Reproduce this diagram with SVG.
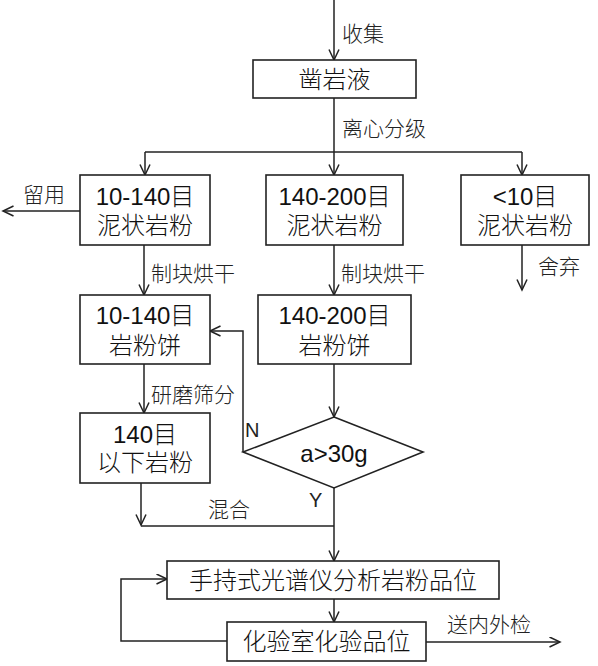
<svg xmlns="http://www.w3.org/2000/svg" width="598" height="666" viewBox="0 0 598 666">
<style>
.box{fill:#fff;stroke:#222;stroke-width:1.6}
.ln{fill:none;stroke:#222;stroke-width:1.5}
.t{font-family:"Liberation Sans","Noto Sans CJK SC",sans-serif;font-size:24px;font-weight:300;fill:#111;text-anchor:middle;dominant-baseline:central}
.l{font-family:"Noto Sans CJK SC","Liberation Sans",sans-serif;font-size:21px;font-weight:300;fill:#222;dominant-baseline:central}
.lat{font-family:"Liberation Sans",sans-serif;font-size:20px;fill:#222;dominant-baseline:central}
</style>
<defs>
<marker id="a" markerUnits="userSpaceOnUse" markerWidth="14" markerHeight="14" refX="11" refY="5.5" orient="auto">
<path d="M0.5,0.5 L11,5.5 L0.5,10.5" fill="none" stroke="#222" stroke-width="1.5"/>
</marker>
</defs>
<rect width="598" height="666" fill="#fff"/>
<g id="connectors">
<path class="ln" d="M334,0 V60" marker-end="url(#a)"/>
<path class="ln" d="M334,98 V152"/>
<path class="ln" d="M145,152 H522"/>
<path class="ln" d="M145,152 V175" marker-end="url(#a)"/>
<path class="ln" d="M334,152 V175" marker-end="url(#a)"/>
<path class="ln" d="M522,152 V175" marker-end="url(#a)"/>
<path class="ln" d="M80,211 H3" marker-end="url(#a)"/>
<path class="ln" d="M144,245 V295" marker-end="url(#a)"/>
<path class="ln" d="M334,245 V295" marker-end="url(#a)"/>
<path class="ln" d="M522,245 V290" marker-end="url(#a)"/>
<path class="ln" d="M144,364 V413" marker-end="url(#a)"/>
<path class="ln" d="M334,364 V417" marker-end="url(#a)"/>
<path class="ln" d="M243,452 V331 H210" marker-end="url(#a)"/>
<path class="ln" d="M334,488 V561" marker-end="url(#a)"/>
<path class="ln" d="M141,483 V525" marker-end="url(#a)"/>
<path class="ln" d="M141,526 H334"/>
<path class="ln" d="M334,599 V622" marker-end="url(#a)"/>
<path class="ln" d="M227,641 H121 V579 H167" marker-end="url(#a)"/>
<path class="ln" d="M426,642 H560" marker-end="url(#a)"/>
</g>
<g id="labels">
<text class="l" x="342" y="32">收集</text>
<text class="l" x="342" y="127">离心分级</text>
<text class="l" x="23" y="193">留用</text>
<text class="l" x="151" y="272">制块烘干</text>
<text class="l" x="341" y="272">制块烘干</text>
<text class="l" x="538" y="265">舍弃</text>
<text class="l" x="151" y="393">研磨筛分</text>
<text class="lat" x="245" y="430">N</text>
<text class="lat" x="309" y="500">Y</text>
<text class="l" x="208" y="508">混合</text>
<text class="l" x="447" y="623">送内外检</text>
</g>
<g id="n-zaiyanye">
<rect class="box" x="253" y="60" width="163" height="38"/>
<text class="t" x="334.5" y="79">凿岩液</text>
</g>
<g id="n-10-140-mud">
<rect class="box" x="80" y="175" width="130" height="70"/>
<text class="t" x="145" y="196">10-140目</text>
<text class="t" x="145" y="225">泥状岩粉</text>
</g>
<g id="n-140-200-mud">
<rect class="box" x="266" y="175" width="137" height="70"/>
<text class="t" x="334.5" y="196">140-200目</text>
<text class="t" x="334.5" y="225">泥状岩粉</text>
</g>
<g id="n-lt10-mud">
<rect class="box" x="461" y="175" width="128" height="70"/>
<text class="t" x="525" y="196">&lt;10目</text>
<text class="t" x="525" y="225">泥状岩粉</text>
</g>
<g id="n-10-140-cake">
<rect class="box" x="80" y="295" width="130" height="69"/>
<text class="t" x="145" y="315">10-140目</text>
<text class="t" x="145" y="345">岩粉饼</text>
</g>
<g id="n-140-200-cake">
<rect class="box" x="258" y="295" width="153" height="69"/>
<text class="t" x="334.5" y="315">140-200目</text>
<text class="t" x="334.5" y="345">岩粉饼</text>
</g>
<g id="n-140-below">
<rect class="box" x="80" y="413" width="130" height="70"/>
<text class="t" x="145" y="434">140目</text>
<text class="t" x="145" y="462">以下岩粉</text>
</g>
<g id="n-decision">
<polygon class="box" points="334,417 423,452 334,488 243,452"/>
<text class="t" x="334" y="453">a&gt;30g</text>
</g>
<g id="n-handheld">
<rect class="box" x="167" y="561" width="332" height="38"/>
<text class="t" x="333" y="580">手持式光谱仪分析岩粉品位</text>
</g>
<g id="n-lab">
<rect class="box" x="227" y="622" width="199" height="39"/>
<text class="t" x="326.5" y="641.5">化验室化验品位</text>
</g>
</svg>
